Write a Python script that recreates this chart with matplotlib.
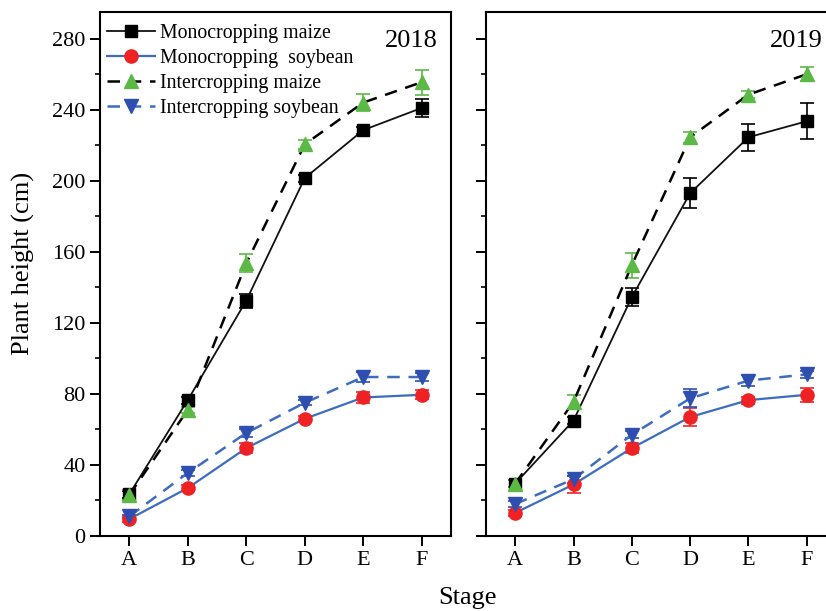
import matplotlib
matplotlib.use("Agg")
import matplotlib.pyplot as plt
from matplotlib.ticker import MultipleLocator
from matplotlib.lines import Line2D

plt.rcParams['font.family'] = ['Liberation Serif', 'DejaVu Serif']

stages = ["A", "B", "C", "D", "E", "F"]
series_names = ["Monocropping maize", "Monocropping  soybean",
                "Intercropping maize", "Intercropping soybean"]

# 2018
mono_maize_2018 = [23.5, 76.5, 132.5, 201.5, 228.5, 241]
mono_maize_2018_err = [2, 2, 4, 2, 2, 5]
mono_soy_2018 = [9.5, 27, 49.5, 66, 78, 79.5]
mono_soy_2018_err = [1.5, 1.5, 3, 1.5, 3, 2.5]
inter_maize_2018 = [23, 71, 153.5, 220.5, 244, 255.5]
inter_maize_2018_err = [3, 1.5, 5, 2.5, 5, 7]
inter_soy_2018 = [11, 35.5, 58, 75, 89.5, 89.5]
inter_soy_2018_err = [1, 1.5, 2, 1.5, 3, 2.5]

# 2019
mono_maize_2019 = [29.5, 65, 134.5, 193, 224.5, 233.5]
mono_maize_2019_err = [2, 2, 5, 8.5, 7.5, 10]
mono_soy_2019 = [13, 29, 49.5, 67, 76.5, 79.5]
mono_soy_2019_err = [1.5, 5, 3, 5, 2, 4]
inter_maize_2019 = [29.5, 75.5, 152.5, 224.5, 248.5, 260]
inter_maize_2019_err = [2, 4, 7, 3, 2, 4]
inter_soy_2019 = [18, 32, 57, 77.5, 87.5, 91]
inter_soy_2019_err = [1.5, 2, 2, 5, 3, 2]

years = ["2018", "2019"]

C_BLACK = '#111111'
C_LINEBLUE = '#3d6cc0'
C_RED = '#ee2225'
C_GREEN = '#5cb946'
C_BLUE = '#2f4fb0'
DASH = (0, (5, 3.5))

styles = [
    dict(color=C_BLACK, lw=1.3, ls='-', marker='s', ms=8.5, mfc='black', mec='black'),
    dict(color=C_LINEBLUE, lw=1.6, ls='-', marker='o', ms=9.5, mfc=C_RED, mec=C_RED),
    dict(color='black', lw=1.8, ls=DASH, marker='^', ms=9.5, mfc=C_GREEN, mec=C_GREEN),
    dict(color=C_LINEBLUE, lw=1.8, ls=DASH, marker='v', ms=9.5, mfc=C_BLUE, mec=C_BLUE),
]
err_colors = ['black', C_RED, C_GREEN, C_BLUE]

fig = plt.figure(figsize=(8.26, 6.11), dpi=100)
ax1 = fig.add_axes([100/826, 1-536/611, 351/826, 524/611])
ax2 = fig.add_axes([486/826, 1-536/611, 350/826, 524/611])

x = list(range(len(stages)))

def draw(ax, data, year, legend):
    for (vals, errs), st, ec, name in zip(data, styles, err_colors, series_names):
        ax.errorbar(x, vals, yerr=errs, capsize=5, elinewidth=1.2, capthick=1.2,
                    ecolor=ec, label=name, zorder=3, **st)
    ax.set_xlim(-0.5, 5.5)
    ax.set_ylim(0, 295)
    ax.set_xticks(x)
    ax.set_xticklabels(stages)
    ax.yaxis.set_major_locator(MultipleLocator(40))
    ax.yaxis.set_minor_locator(MultipleLocator(20))
    ax.tick_params(axis='both', which='major', direction='out', length=7, width=1.4,
                   labelsize=16, pad=3.5)
    ax.tick_params(axis='y', which='minor', direction='out', length=3.6, width=1.2)
    ax.tick_params(axis='x', pad=4)
    for s in ax.spines.values():
        s.set_linewidth(1.5)
    # bottom axis line extends slightly left of the y axis
    ax.plot([-0.0285, 0], [0, 0], transform=ax.transAxes, clip_on=False,
            color='black', lw=1.5, solid_capstyle='butt')
    ax.text(0.963, 0.933, year, transform=ax.transAxes, ha='right', va='baseline',
            fontsize=19)
    if legend:
        handles = [Line2D([], [], **st) for st in styles]
        ax.legend(handles, series_names, loc='upper left', frameon=False, fontsize=14.3,
                  handlelength=2.4, handletextpad=0.25, labelspacing=0.31,
                  borderaxespad=0.1, borderpad=0.25,
                  bbox_to_anchor=(0, 1 - 5/524))

draw(ax1, [(mono_maize_2018, mono_maize_2018_err), (mono_soy_2018, mono_soy_2018_err),
           (inter_maize_2018, inter_maize_2018_err), (inter_soy_2018, inter_soy_2018_err)],
     years[0], True)
draw(ax2, [(mono_maize_2019, mono_maize_2019_err), (mono_soy_2019, mono_soy_2019_err),
           (inter_maize_2019, inter_maize_2019_err), (inter_soy_2019, inter_soy_2019_err)],
     years[1], False)
ax2.set_yticklabels([])

fig.text(23/826, 1-263.5/611, "Plant height (cm)", rotation=90, ha='center',
         va='center', fontsize=19)
fig.text(468/826, 1-604/611, "Stage", ha='center', va='baseline', fontsize=19)

fig.savefig("out.png", dpi=100)
